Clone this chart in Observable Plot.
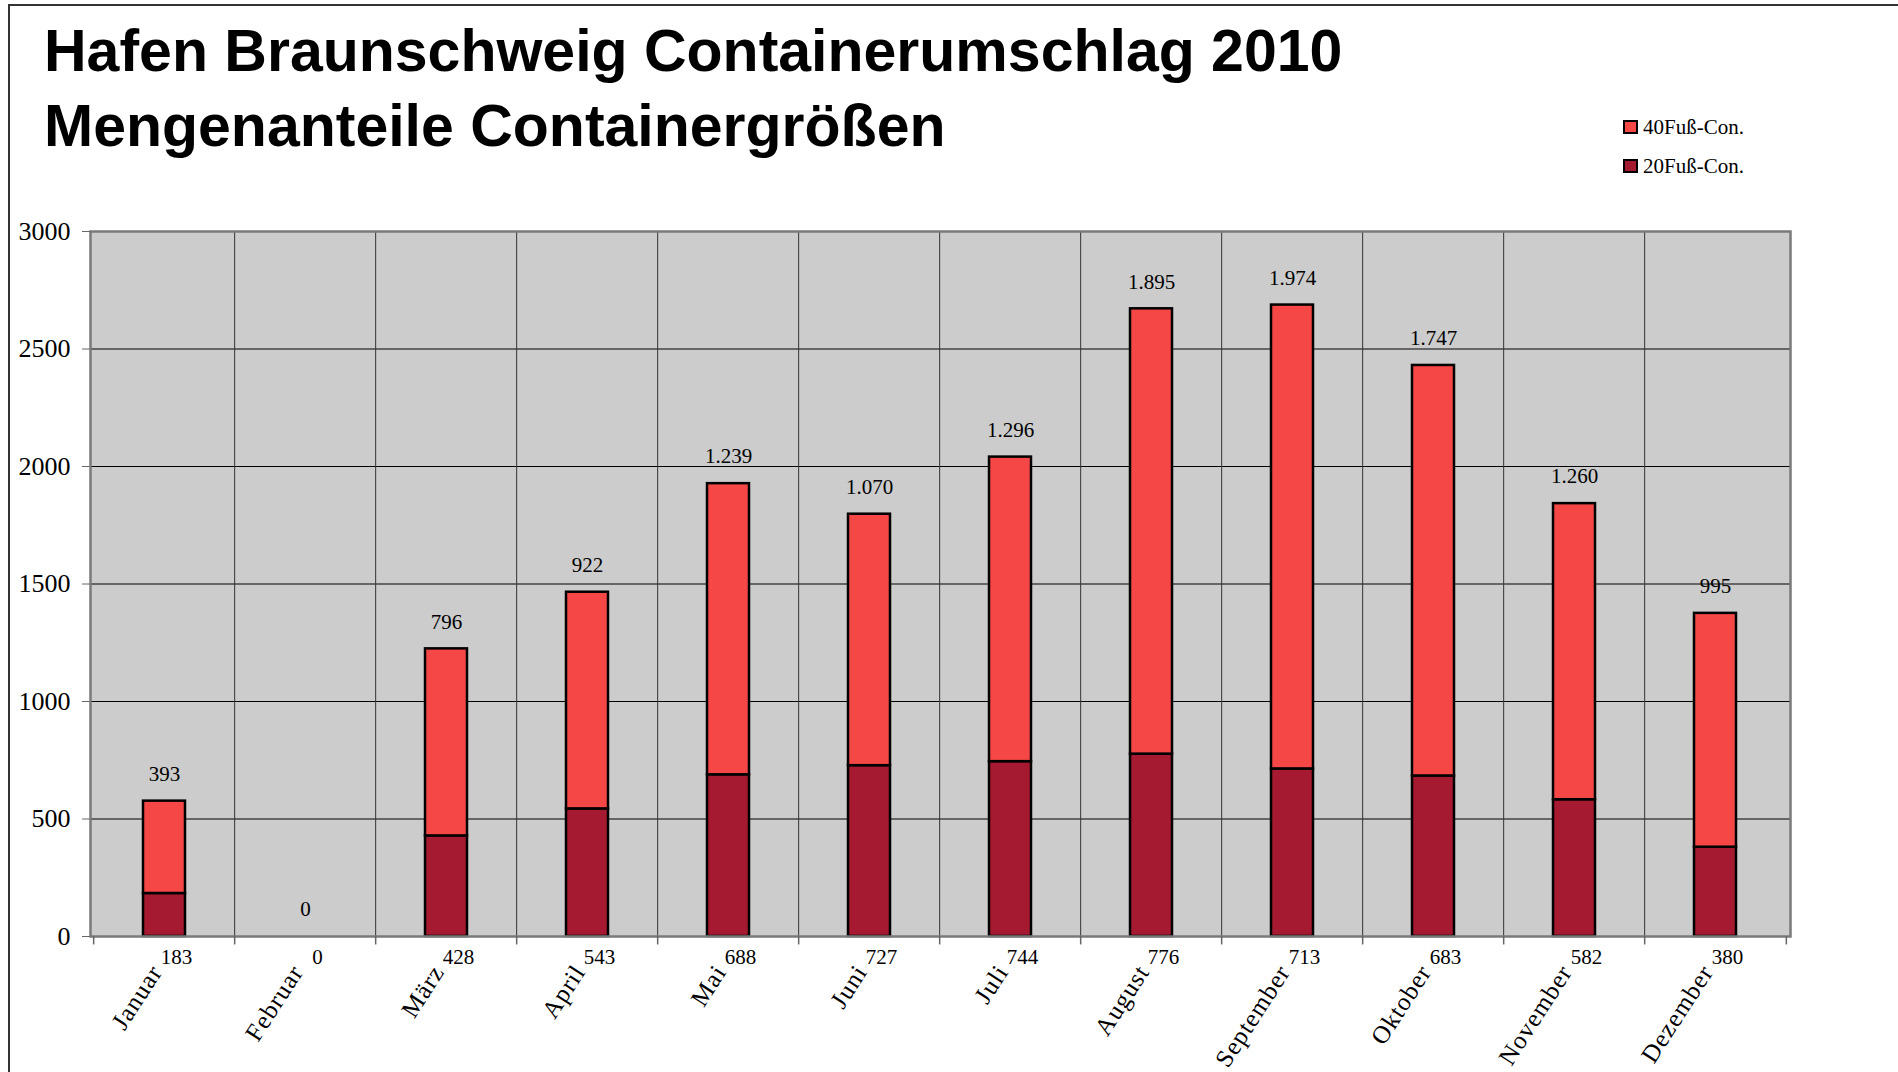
<!DOCTYPE html>
<html><head><meta charset="utf-8">
<script src="https://cdn.jsdelivr.net/npm/d3@7"></script>
<script src="https://cdn.jsdelivr.net/npm/@observablehq/plot@0.6"></script>
<style>
html,body{margin:0;padding:0;background:#fff;overflow:hidden}
#wrap{position:relative;width:1898px;height:1072px;overflow:hidden}
#title{position:absolute;left:44px;top:14px;font-family:"Liberation Sans",Arial,sans-serif;font-weight:bold;font-size:59px;line-height:74.6px;color:#000;white-space:nowrap}
.sw{position:absolute;left:1623px;width:15px;height:14px;box-sizing:border-box;border:2px solid #000}
.lt{position:absolute;left:1643px;font-family:"Liberation Serif","Times New Roman",serif;font-size:21px;line-height:21px;color:#000;white-space:nowrap}
#chart{position:absolute;left:0;top:190px}
#border{position:absolute;left:8px;top:4px;width:1900px;height:1080px;border-left:2px solid #333;border-top:2px solid #333;pointer-events:none}
#chart g[aria-label="x-axis tick label"] text{letter-spacing:1px}
</style>
</head><body>
<div id="wrap">
  <div id="title">Hafen Braunschweig Containerumschlag 2010<br>Mengenanteile Containergrößen</div>
  <div id="legend"></div>
  <div id="chart"></div>
  <div id="border"></div>
</div>
<script>
const months = ["Januar","Februar","März","April","Mai","Juni","Juli","August","September","Oktober","November","Dezember"];
const con40 = [393,0,796,922,1239,1070,1296,1895,1974,1747,1260,995];
const con20 = [183,0,428,543,688,727,744,776,713,683,582,380];
const yTicks = [0,500,1000,1500,2000,2500,3000];
const seriesNames = ["20Fuß-Con.","40Fuß-Con."];
const seriesColors = ["#A51931","#F54745"];
const legendOrder = ["40Fuß-Con.","20Fuß-Con."];

const rows = months.flatMap((m,i)=>[
  {month:m, type:seriesNames[0], value:con20[i]},
  {month:m, type:seriesNames[1], value:con40[i]}
]);
const totals = months.map((m,i)=>({month:m, total:con20[i]+con40[i], v40:con40[i], v20:con20[i]}));
const de = d3.formatLocale({decimal:",", thousands:".", grouping:[3], currency:["","\u00a0€"]}).format(",d");

// legend
const leg = document.getElementById("legend");
legendOrder.forEach((name,k)=>{
  const sw = document.createElement("div");
  sw.className="sw"; sw.style.top=(120+k*39)+"px";
  sw.style.background = seriesColors[seriesNames.indexOf(name)];
  const t = document.createElement("div");
  t.className="lt"; t.style.top=(117.4+k*39)+"px"; t.textContent=name;
  leg.appendChild(sw); leg.appendChild(t);
});

const W=1898, H=882, mL=90, mR=108, mT=41, mB=136;
const step = (W-mL-mR)/months.length;
const serif = '"Liberation Serif","Times New Roman",serif';

const chart = Plot.plot({
  width:W, height:H, marginLeft:mL, marginRight:mR, marginTop:mT, marginBottom:mB,
  style:{background:"transparent", fontFamily:serif, color:"#000", overflow:"visible"},
  x:{domain:months, paddingInner:0.70, paddingOuter:0.35, label:null},
  y:{domain:[0,3000], label:null},
  color:{domain:seriesNames, range:seriesColors},
  marks:[
    Plot.frame({fill:"#cccccc"}),
    Plot.ruleY(yTicks.slice(1,-1), {stroke:"#000", strokeWidth:1}),
    Plot.ruleX(months.slice(1), {dx:-step/2, stroke:"#333", strokeWidth:1}),
    Plot.barY(rows, {filter:d=>d.value>0, x:"month", y:"value", fill:"type", stroke:"#000", strokeWidth:2.5}),
    Plot.frame({stroke:"#7a7a7a", strokeWidth:2.5}),
    Plot.ruleX(months, {y1:0, y2:-36, dx:-step/2, stroke:"#666", strokeWidth:1.5}),
    Plot.ruleX(months.slice(-1), {y1:0, y2:-36, dx:step/2, stroke:"#666", strokeWidth:1.5}),
    Plot.axisY({ticks:yTicks, tickSize:8, tickPadding:12, tickFormat:d=>String(d), fontSize:26, stroke:"#666", fill:"#000", label:null}),
    Plot.axisX({tickSize:0, tickPadding:31, tickRotate:-57, fontSize:25, textAnchor:"end", dx:-8, fill:"#000", label:null}),
    Plot.text(totals, {x:"month", y:"total", text:d=>de(d.v40), dy:-27, fontSize:21, fill:"#000"}),
    Plot.text(totals, {x:"month", y:0, text:d=>de(d.v20), dy:21, dx:12, fontSize:21, fill:"#000"})
  ]
});
document.getElementById("chart").appendChild(chart);
</script>
</body></html>
